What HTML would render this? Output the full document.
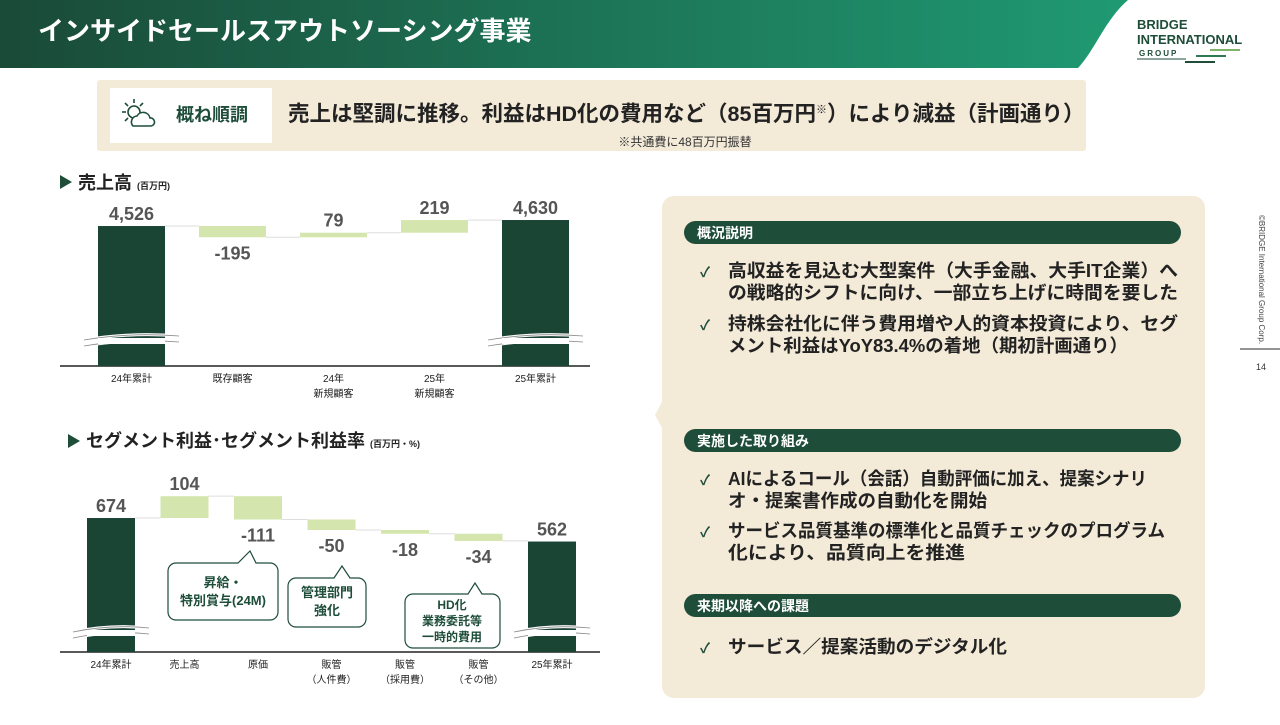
<!DOCTYPE html>
<html><head><meta charset="utf-8">
<style>
body{margin:0;width:1280px;height:720px;overflow:hidden;background:#fff;font-family:"Liberation Sans","Noto Sans CJK JP",sans-serif;}
svg text{font-family:"Liberation Sans","Noto Sans CJK JP",sans-serif;}
</style></head>
<body>
<svg id="s" width="1280" height="720" viewBox="0 0 1280 720" xmlns="http://www.w3.org/2000/svg">
<defs>
<linearGradient id="hg" x1="0" x2="1" y1="0" y2="0">
<stop offset="0" stop-color="#1a4a38"/><stop offset="1" stop-color="#1f9a72"/>
</linearGradient>
</defs>
<g>
<path d="M0 0 H1128 C1105 20 1095 50 1078 68 H0 Z" fill="url(#hg)"/>
<text x="38" y="40" fill="#fff" font-size="26" font-weight="bold">インサイドセールスアウトソーシング事業</text>
<g>
<text x="1137" y="29" fill="#1e4d3a" font-size="13" font-weight="bold">BRIDGE</text>
<text x="1137" y="44" fill="#1e4d3a" font-size="13" font-weight="bold">INTERNATIONAL</text>
<text x="1139" y="56" fill="#1e4d3a" font-size="8" font-weight="bold" letter-spacing="2">GROUP</text>
<line x1="1137" y1="59" x2="1186" y2="59" stroke="#1e4d3a" stroke-width="1"/>
<line x1="1210" y1="50" x2="1240" y2="50" stroke="#7fb36a" stroke-width="2"/>
<line x1="1196" y1="56" x2="1226" y2="56" stroke="#2f7a55" stroke-width="2"/>
<line x1="1185" y1="62" x2="1215" y2="62" stroke="#1e4d3a" stroke-width="2"/>
</g>
</g>
<g>
<rect x="97" y="80" width="989" height="71" rx="3" fill="#f3ead8"/>
<rect x="110" y="88" width="162" height="55" fill="#fff"/>
<g stroke="#1e4d3a" stroke-width="1.6" fill="none">
<circle cx="134" cy="112" r="6"/>
<line x1="134" y1="99" x2="134" y2="103"/><line x1="122" y1="112" x2="126" y2="112"/>
<line x1="125" y1="103" x2="128" y2="106"/><line x1="143" y1="103" x2="140" y2="106"/>
<line x1="125" y1="121" x2="128" y2="118"/>
<path d="M133 126 a6 6 0 0 1 4 -10 a7 7 0 0 1 13 2 a4 4 0 0 1 1 8 Z" fill="#fff"/>
</g>
<text x="176" y="121" font-size="18" font-weight="bold" fill="#1e4d3a">概ね順調</text>
<text x="288" y="121" font-size="21.5" font-weight="bold" fill="#222">売上は堅調に推移。利益はHD化の費用など（85百万円<tspan font-size="11" dy="-8">※</tspan><tspan dy="8">）により減益（計画通り）</tspan></text>
<text x="685" y="146" font-size="12" fill="#333" text-anchor="middle">※共通費に48百万円振替</text>
</g>

<g>
<path d="M60 175 L72 182 L60 189 Z" fill="#1e4d3a"/>
<text x="78" y="189" font-size="18" font-weight="bold" fill="#222">売上高 <tspan font-size="9">(百万円)</tspan></text>
<g id="c1"></g>
</g>
<g>
<path d="M68 434 L80 441 L68 448 Z" fill="#1e4d3a"/>
<text x="86" y="447" font-size="18" font-weight="bold" fill="#222">セグメント利益･セグメント利益率 <tspan font-size="9">(百万円・%)</tspan></text>
<g id="c2"></g>
<g>
<path d="M176 563 H238 L250 551 L256 563 H270 a8 8 0 0 1 8 8 V612 a8 8 0 0 1 -8 8 H176 a8 8 0 0 1 -8 -8 V571 a8 8 0 0 1 8 -8 Z" fill="#fff" stroke="#1e4d3a" stroke-width="1.2"/>
<text x="223" y="587" font-size="13" font-weight="bold" fill="#1e4d3a" text-anchor="middle">昇給・</text>
<text x="223" y="605" font-size="13" font-weight="bold" fill="#1e4d3a" text-anchor="middle">特別賞与(24M)</text>
</g>
<g>
<path d="M296 578 H334 L342 566 L350 578 H358 a8 8 0 0 1 8 8 V619 a8 8 0 0 1 -8 8 H296 a8 8 0 0 1 -8 -8 V586 a8 8 0 0 1 8 -8 Z" fill="#fff" stroke="#1e4d3a" stroke-width="1.2"/>
<text x="327" y="597" font-size="13" font-weight="bold" fill="#1e4d3a" text-anchor="middle">管理部門</text>
<text x="327" y="615" font-size="13" font-weight="bold" fill="#1e4d3a" text-anchor="middle">強化</text>
</g>
<g>
<path d="M413 594 H468 L475 583 L482 594 H492 a8 8 0 0 1 8 8 V640 a8 8 0 0 1 -8 8 H413 a8 8 0 0 1 -8 -8 V602 a8 8 0 0 1 8 -8 Z" fill="#fff" stroke="#1e4d3a" stroke-width="1.2"/>
<text x="452" y="609" font-size="12" font-weight="bold" fill="#1e4d3a" text-anchor="middle">HD化</text>
<text x="452" y="625" font-size="12" font-weight="bold" fill="#1e4d3a" text-anchor="middle">業務委託等</text>
<text x="452" y="641" font-size="12" font-weight="bold" fill="#1e4d3a" text-anchor="middle">一時的費用</text>
</g>
</g>

<g>
<path d="M674 196 H1193 a12 12 0 0 1 12 12 V686 a12 12 0 0 1 -12 12 H674 a12 12 0 0 1 -12 -12 V428 L655 415 L662 402 V208 a12 12 0 0 1 12 -12 Z" fill="#f3ead8"/>
<rect x="684" y="221" width="497" height="23" rx="11.5" fill="#1e4d3a"/>
<text x="697" y="238" font-size="14" font-weight="bold" fill="#fff">概況説明</text>
<g font-size="18" font-weight="bold" fill="#222">
<text x="700" y="277" font-size="14" fill="#1e4d3a">✓</text>
<text x="728" y="277" textLength="450" lengthAdjust="spacingAndGlyphs">高収益を見込む大型案件（大手金融、大手IT企業）へ</text>
<text x="728" y="299" textLength="450" lengthAdjust="spacingAndGlyphs">の戦略的シフトに向け、一部立ち上げに時間を要した</text>
<text x="700" y="330" font-size="14" fill="#1e4d3a">✓</text>
<text x="728" y="330" textLength="450" lengthAdjust="spacingAndGlyphs">持株会社化に伴う費用増や人的資本投資により、セグ</text>
<text x="728" y="352" textLength="400" lengthAdjust="spacingAndGlyphs">メント利益はYoY83.4%の着地（期初計画通り）</text>
</g>
<rect x="684" y="429" width="497" height="23" rx="11.5" fill="#1e4d3a"/>
<text x="697" y="446" font-size="14" font-weight="bold" fill="#fff">実施した取り組み</text>
<g font-size="18" font-weight="bold" fill="#222">
<text x="700" y="485" font-size="14" fill="#1e4d3a">✓</text>
<text x="728" y="485" textLength="419" lengthAdjust="spacingAndGlyphs">AIによるコール（会話）自動評価に加え、提案シナリ</text>
<text x="728" y="507" textLength="259" lengthAdjust="spacingAndGlyphs">オ・提案書作成の自動化を開始</text>
<text x="700" y="537" font-size="14" fill="#1e4d3a">✓</text>
<text x="728" y="537" textLength="437" lengthAdjust="spacingAndGlyphs">サービス品質基準の標準化と品質チェックのプログラム</text>
<text x="728" y="559" textLength="237" lengthAdjust="spacingAndGlyphs">化により、品質向上を推進</text>
</g>
<rect x="684" y="594" width="497" height="23" rx="11.5" fill="#1e4d3a"/>
<text x="697" y="611" font-size="14" font-weight="bold" fill="#fff">来期以降への課題</text>
<g font-size="18" font-weight="bold" fill="#222">
<text x="700" y="653" font-size="14" fill="#1e4d3a">✓</text>
<text x="728" y="653" textLength="279" lengthAdjust="spacingAndGlyphs">サービス／提案活動のデジタル化</text>
</g>
</g>
<text transform="translate(1259,215) rotate(90)" font-size="8" fill="#444">©BRIDGE International Group Corp.</text>
<line x1="1240" y1="349" x2="1280" y2="349" stroke="#555" stroke-width="1.2"/>
<text x="1261" y="370" font-size="9" fill="#333" text-anchor="middle">14</text>
</svg>
<script>
const NS="http://www.w3.org/2000/svg";
// Sales waterfall data
const salesCats=[["24年累計"],["既存顧客"],["24年","新規顧客"],["25年","新規顧客"],["25年累計"]];
const salesVals=[4526,-195,79,219,4630];
const salesLabels=["4,526","-195","79","219","4,630"];
// Profit waterfall data
const profitCats=[["24年累計"],["売上高"],["原価"],["販管","（人件費）"],["販管","（採用費）"],["販管","（その他）"],["25年累計"]];
const profitVals=[674,104,-111,-50,-18,-34,562];
const profitLabels=["674","104","-111","-50","-18","-34","562"];

function el(tag,attrs,parent){const e=document.createElementNS(NS,tag);for(const k in attrs)e.setAttribute(k,attrs[k]);parent.appendChild(e);return e;}

function waterfall(g,cats,vals,labels,o){
  const y=v=>o.base-(v-o.offset)*o.k;
  const x=i=>o.x0+i*o.step;
  el("line",{x1:o.ax0,x2:o.ax1,y1:o.base,y2:o.base,stroke:"#222","stroke-width":1.5},g);
  let run=0;
  const n=vals.length;
  for(let i=0;i<n;i++){
    const v=vals[i];
    const total=(i===0||i===n-1);
    let top,bot,prev=run;
    if(total){run=v;top=y(v);bot=o.base;}
    else{run=prev+v;top=y(Math.max(prev,run));bot=y(Math.min(prev,run));}
    const r=el("rect",{x:x(i),y:top,width:o.w,height:Math.max(1,bot-top),fill:total?"#1a4535":"#d4e6ad"},g);
    
    
    if(i<n-1){
      const nx=total?v:run;
      el("line",{x1:x(i)+o.w,x2:x(i+1),y1:y(nx),y2:y(nx),stroke:"#ddd","stroke-width":1},g);
    }
    if(total){
      el("path",{d:`M${x(i)-14} ${o.brk+4} q${o.w/2+14} -8 ${o.w+28} -4 M${x(i)-14} ${o.brk+10} q${o.w/2+14} -8 ${o.w+28} -4`,stroke:"#fff","stroke-width":3,fill:"none"},g);
      el("path",{d:`M${x(i)-14} ${o.brk+4} q${o.w/2+14} -8 ${o.w+28} -4 M${x(i)-14} ${o.brk+10} q${o.w/2+14} -8 ${o.w+28} -4`,stroke:"#888","stroke-width":0.8,fill:"none"},g);
      el("rect",{x:x(i),y:o.brk+2,width:o.w,height:6,fill:"#fff"},g);
    }
    const ly=(v<0&&!total)?bot+o.fs+4:top-6;
    const t=el("text",{x:x(i)+o.w/2,y:ly,"font-size":o.fs,"font-weight":"bold",fill:"#555","text-anchor":"middle"},g);
    t.textContent=labels[i];
    
    
    cats[i].forEach((c,j)=>{
      const ct=el("text",{x:x(i)+o.w/2,y:o.base+16+j*15,"font-size":10,fill:"#222","text-anchor":"middle"},g);
      ct.textContent=c;
      
      
    });
  }
}
waterfall(document.getElementById("c1"),salesCats,salesVals,salesLabels,
 {base:366,offset:2100,k:0.0577,x0:98,step:101,w:67,ax0:60,ax1:590,brk:336,fs:18});
waterfall(document.getElementById("c2"),profitCats,profitVals,profitLabels,
 {base:652,offset:36,k:0.21,x0:87,step:73.5,w:48,ax0:60,ax1:600,brk:628,fs:18});
</script>
</body></html>
